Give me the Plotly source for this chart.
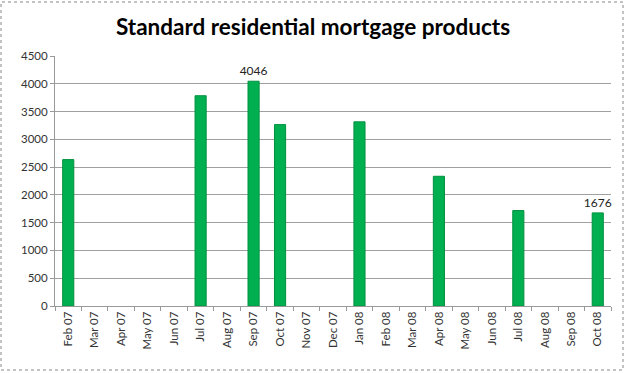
import plotly.graph_objects as go

categories = ["Feb 07", "Mar 07", "Apr 07", "May 07", "Jun 07", "Jul 07", "Aug 07",
              "Sep 07", "Oct 07", "Nov 07", "Dec 07", "Jan 08", "Feb 08", "Mar 08",
              "Apr 08", "May 08", "Jun 08", "Jul 08", "Aug 08", "Sep 08", "Oct 08"]
values = [2635, None, None, None, None, 3785, None,
          4046, 3265, None, None, 3315, None, None,
          2335, None, None, 1718, None, None, 1676]
labelled = ["Sep 07", "Oct 08"]
y_ticks = [0, 500, 1000, 1500, 2000, 2500, 3000, 3500, 4000, 4500]

text = [str(v) if (c in labelled and v is not None) else "" for c, v in zip(categories, values)]

fig = go.Figure()
fig.add_trace(go.Bar(
    x=categories, y=values, width=0.42,
    marker=dict(color="#00B050", line=dict(color="#00903f", width=1)),
    text=text, textposition="outside", cliponaxis=False, constraintext="none",
    textfont=dict(family="Lato, Open Sans, sans-serif", size=12, color="#222"),
))

fig.update_layout(
    width=626, height=373,
    margin=dict(l=55, r=15, t=56, b=67),
    paper_bgcolor="white", plot_bgcolor="white",
    showlegend=False,
    title=dict(text="<b>Standard residential mortgage products</b>",
               x=0.5, xanchor="center", y=0.928, yanchor="middle",
               font=dict(family="Lato, Open Sans, sans-serif", size=22.5, color="black")),
    font=dict(family="Lato, Open Sans, sans-serif", size=11, color="#333"),
)
fig.update_xaxes(
    type="category", tickangle=-90, showgrid=False,
    showline=True, linecolor="#999", linewidth=1,
    ticks="outside", tickson="boundaries", ticklen=4, tickcolor="#999",
    tickfont=dict(size=11.5, color="#333"),
)
fig.update_yaxes(
    range=[0, 4500], tickvals=y_ticks, showgrid=True, gridcolor="#a0a0a0", gridwidth=1,
    showline=True, linecolor="#999", linewidth=1,
    ticks="outside", ticklen=4, tickcolor="#999", zeroline=False,
    tickfont=dict(size=11.5, color="#333"),
)
fig.add_shape(type="rect", xref="paper", yref="paper",
              x0=-54/556, x1=1 + 12/556, y0=-64/250, y1=1 + 54/250,
              line=dict(color="#888", width=1, dash="dot"), layer="below")

fig.write_html("out.html", config={"displayModeBar": False},
               post_script="document.body.style.margin='0';")
